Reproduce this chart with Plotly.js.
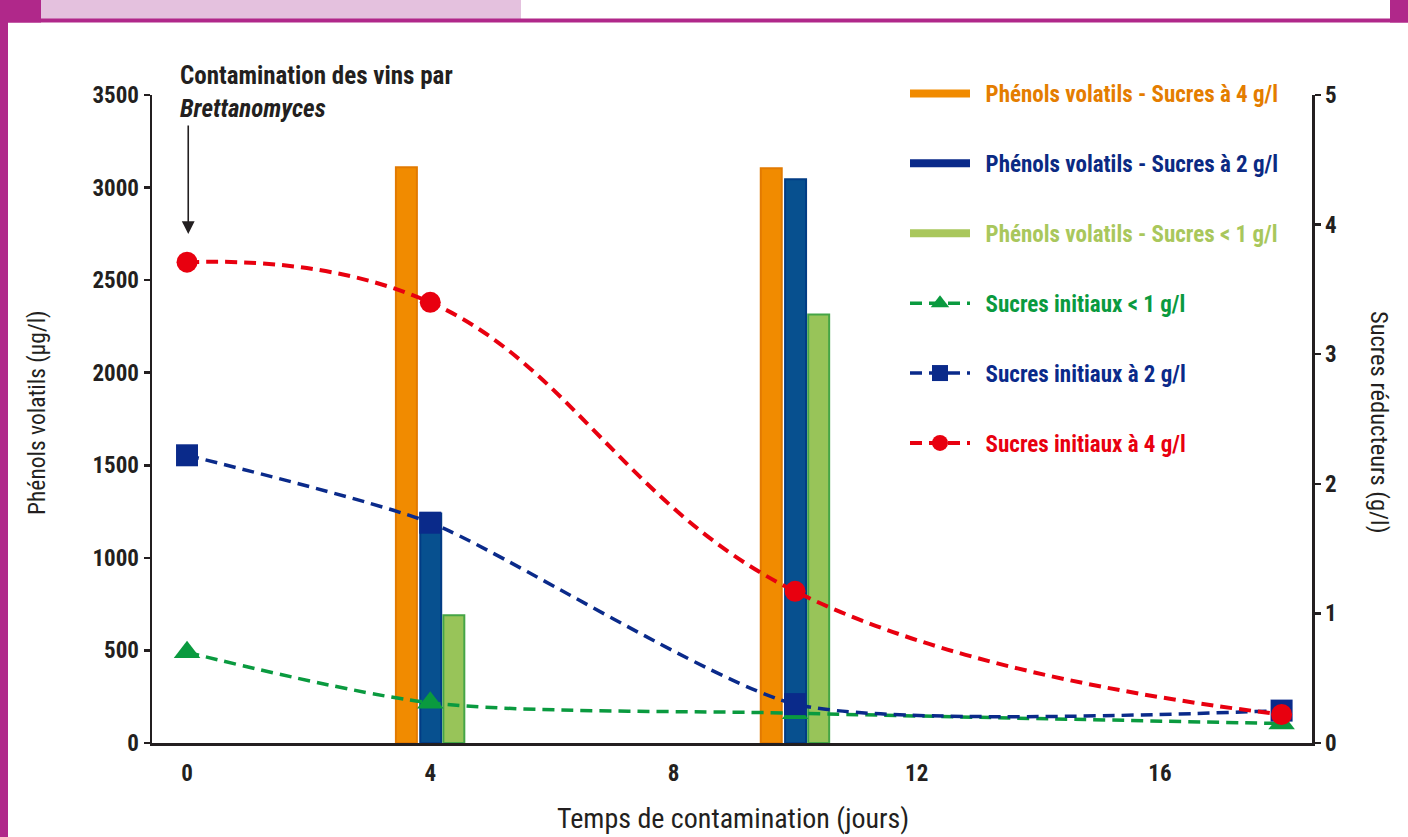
<!DOCTYPE html>
<html>
<head>
<meta charset="utf-8">
<script src="https://cdn.plot.ly/plotly-3.0.1.min.js"></script>
<style>
  html, body { margin: 0; padding: 0; background: #ffffff; }
  #chart { width: 1408px; height: 837px; }
</style>
</head>
<body>
<div id="chart"></div>
<script>
// ---------- DATA ----------
const barDays = [4, 10];
const phenolsSucres4 = [3110, 3105];
const phenolsSucres2 = [1240, 3045];
const phenolsSucres1 = [690, 2315];

const sugarDays = [0, 4, 10, 18];
const sucresInit4 = [3.71, 3.40, 1.17, 0.22];
const sucresInit2 = [2.22, 1.70, 0.30, 0.25];
const sucresInit1 = [0.70, 0.31, 0.23, 0.15];

const xTickVals = [0, 4, 8, 12, 16];
const xTickText = ['0', '4', '8', '12', '16'];

const names = {
  p4: 'Phénols volatils - Sucres à 4 g/l',
  p2: 'Phénols volatils - Sucres à 2 g/l',
  p1: 'Phénols volatils - Sucres < 1 g/l',
  s1: 'Sucres initiaux < 1 g/l',
  s2: 'Sucres initiaux à 2 g/l',
  s4: 'Sucres initiaux à 4 g/l'
};

// ---------- STYLE ----------
const FONT = '"Roboto Condensed", "Open Sans Condensed", "Liberation Sans", sans-serif';
const INK = '#231F20';
const C = {
  orange: '#F18B00', orangeEdge: '#E27A00', orangeText: '#E47D00',
  blue: '#07508F', blueEdge: '#023C84', blueText: '#0B2A83',
  lgreen: '#98C459', lgreenEdge: '#45A546', lgreenText: '#A9C75C',
  green: '#0A9A3F', navy: '#0A2A8A', red: '#E8000F'
};
const BW = 0.345;
const DASH = '12px,7px';

function span(txt, col) {
  const safe = txt.replace(/</g, '&lt;');
  return '&nbsp;&nbsp;<span style="color:' + col + '">' + safe + '</span>';
}

const traces = [
  // bars (phenols, left axis)
  { type: 'bar', x: barDays, y: phenolsSucres4, width: BW, offset: -0.565, yaxis: 'y', showlegend: false,
    marker: { color: C.orange, line: { color: C.orangeEdge, width: 2 } }, name: names.p4 },
  { type: 'bar', x: barDays, y: phenolsSucres2, width: BW, offset: -0.165, yaxis: 'y', showlegend: false,
    marker: { color: C.blue, line: { color: C.blueEdge, width: 2 } }, name: names.p2 },
  { type: 'bar', x: barDays, y: phenolsSucres1, width: BW, offset: 0.215, yaxis: 'y', showlegend: false,
    marker: { color: C.lgreen, line: { color: C.lgreenEdge, width: 2 } }, name: names.p1 },
  // legend keys for the bars (thick line keys, as in the original legend)
  { type: 'scatter', mode: 'lines', x: [null], y: [null], yaxis: 'y', legendgroup: 'a', legendrank: 1,
    line: { color: C.orange, width: 8 }, name: span(names.p4, C.orangeText) },
  { type: 'scatter', mode: 'lines', x: [null], y: [null], yaxis: 'y', legendgroup: 'b', legendrank: 2,
    line: { color: C.navy, width: 8 }, name: span(names.p2, C.blueText) },
  { type: 'scatter', mode: 'lines', x: [null], y: [null], yaxis: 'y', legendgroup: 'c', legendrank: 3,
    line: { color: C.lgreenText, width: 8 }, name: span(names.p1, C.lgreenText) },
  // sugar curves (right axis)
  { type: 'scatter', mode: 'lines+markers', x: sugarDays, y: sucresInit1, yaxis: 'y2', legendgroup: 'd', legendrank: 4,
    line: { color: C.green, width: 3.5, dash: DASH, shape: 'spline', smoothing: 0.8 },
    marker: { symbol: 'triangle-up', size: 23, color: C.green }, name: span(names.s1, C.green) },
  { type: 'scatter', mode: 'lines+markers', x: sugarDays, y: sucresInit2, yaxis: 'y2', legendgroup: 'e', legendrank: 5,
    line: { color: C.navy, width: 3.5, dash: DASH, shape: 'spline', smoothing: 0.6 },
    marker: { symbol: 'square', size: 22, color: C.navy }, name: span(names.s2, C.navy) },
  { type: 'scatter', mode: 'lines+markers', x: sugarDays, y: sucresInit4, yaxis: 'y2', legendgroup: 'f', legendrank: 6,
    line: { color: C.red, width: 4, dash: DASH, shape: 'spline', smoothing: 1.2 },
    marker: { symbol: 'circle', size: 21, color: C.red }, name: span(names.s4, C.red) }
];

// pixel -> paper helpers for frame decoration (plot area: x 152..1312, y 95..743)
const PL = 152, PW = 1160, PB = 743, PH = 648;
const px = v => (v - PL) / PW;
const py = v => (PB - v) / PH;
const PURPLE = '#B0288A';

const shapes = [
  { type: 'rect', xref: 'paper', yref: 'paper', x0: px(0), x1: px(8), y0: py(837), y1: py(0), line: { width: 0 }, fillcolor: PURPLE, layer: 'above' },
  { type: 'rect', xref: 'paper', yref: 'paper', x0: px(41), x1: px(521), y0: py(19), y1: py(0), line: { width: 0 }, fillcolor: '#E4C1DE', layer: 'above' },
  { type: 'rect', xref: 'paper', yref: 'paper', x0: px(0), x1: px(1408), y0: py(22.5), y1: py(18.5), line: { width: 0 }, fillcolor: PURPLE, layer: 'above' },
  { type: 'rect', xref: 'paper', yref: 'paper', x0: px(0), x1: px(41), y0: py(22.5), y1: py(0), line: { width: 0 }, fillcolor: PURPLE, layer: 'above' },
  { type: 'rect', xref: 'paper', yref: 'paper', x0: px(1390), x1: px(1408), y0: py(22.5), y1: py(0), line: { width: 0 }, fillcolor: PURPLE, layer: 'above' }
];

const annotations = [
  { xref: 'paper', yref: 'paper', x: px(178), y: py(59), xanchor: 'left', yanchor: 'top', align: 'left', showarrow: false,
    text: '<b>Contamination des vins par</b><br><b><i>Brettanomyces</i></b>', font: { family: FONT, size: 25, color: INK } },
  { xref: 'x', yref: 'y', x: 0.02, y: (743 - 234) / 0.18514, ax: 0, ay: -110, showarrow: true, text: '',
    arrowhead: 2, arrowsize: 1.6, arrowwidth: 1.6, arrowcolor: INK },
  { xref: 'paper', yref: 'paper', x: px(37), y: py(413), xanchor: 'center', yanchor: 'middle', textangle: -90, showarrow: false,
    text: 'Phénols volatils (µg/l)', font: { family: FONT, size: 23.5, color: INK } },
  { xref: 'paper', yref: 'paper', x: px(1380), y: py(422), xanchor: 'center', yanchor: 'middle', textangle: 90, showarrow: false,
    text: 'Sucres réducteurs (g/l)', font: { family: FONT, size: 24.5, color: INK } },
  { xref: 'paper', yref: 'paper', x: px(733), y: py(818), xanchor: 'center', yanchor: 'middle', showarrow: false,
    text: 'Temps de contamination (jours)', font: { family: FONT, size: 28, color: INK } }
];

const axisCommon = {
  showline: true, linecolor: INK, linewidth: 2.5, showgrid: false, zeroline: false,
  tickfont: { family: FONT, size: 23, color: INK, weight: 'bold' }
};

const layout = {
  width: 1408, height: 837,
  margin: { l: 152, r: 96, t: 95, b: 94, pad: 0 },
  paper_bgcolor: '#ffffff', plot_bgcolor: '#ffffff',
  barmode: 'overlay',
  showlegend: true,
  legend: {
    x: px(905), y: py(72), xanchor: 'left', yanchor: 'top',
    bgcolor: 'rgba(0,0,0,0)', borderwidth: 0, tracegroupgap: 37, itemwidth: 60,
    font: { family: FONT, size: 23, color: INK, weight: 'bold' }, traceorder: 'grouped'
  },
  xaxis: Object.assign({}, axisCommon, {
    range: [-0.576, 18.5], tickvals: xTickVals, ticktext: xTickText, ticks: '', ticklabelstandoff: 8
  }),
  yaxis: Object.assign({}, axisCommon, {
    range: [0, 3500], dtick: 500, ticks: 'outside', ticklen: 6, tickwidth: 2.5, tickcolor: INK, ticklabelstandoff: 0
  }),
  yaxis2: Object.assign({}, axisCommon, {
    overlaying: 'y', side: 'right', range: [0, 5], dtick: 1, ticks: 'outside', ticklen: 6, tickwidth: 2.5, tickcolor: INK
  }),
  shapes: shapes,
  annotations: annotations
};

Plotly.newPlot('chart', traces, layout, { displayModeBar: false, staticPlot: true });
</script>
</body>
</html>
